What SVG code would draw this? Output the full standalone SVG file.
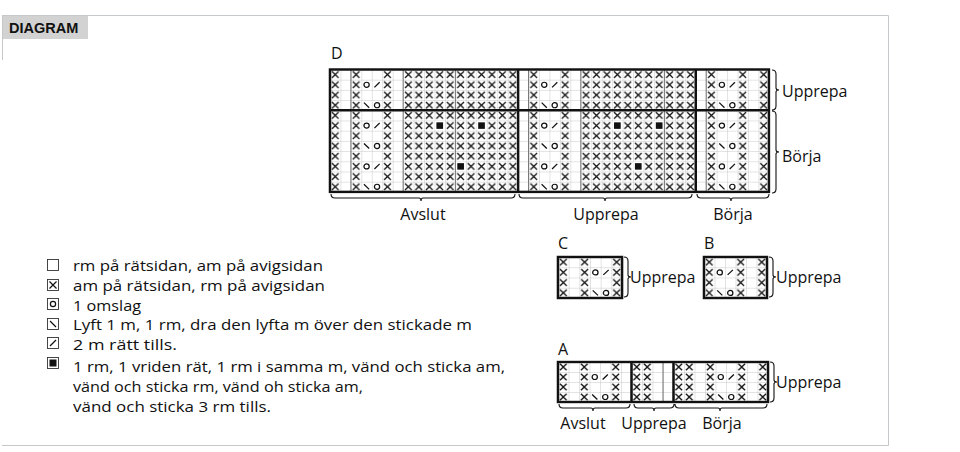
<svg xmlns="http://www.w3.org/2000/svg" xmlns:xlink="http://www.w3.org/1999/xlink" width="960" height="452" viewBox="0 0 960 452">
<style>
text{font-family:"Open Sans","Liberation Sans",Arial,sans-serif;fill:#111}
.lg{font-size:15.2px}
.lb{font-size:16px}
.t{font-size:14.5px;font-weight:bold;font-family:"Liberation Sans",Arial,sans-serif}
.thick{fill:none;stroke:#111;stroke-width:2.4}
.mid{stroke:#777;stroke-width:1}
.br{fill:none;stroke:#111;stroke-width:1.1}
.sym{fill:none;stroke:#111;stroke-width:1.2}
</style>
<defs>
<pattern id="g" patternUnits="userSpaceOnUse" width="10" height="10"><rect width="10" height="10" fill="#fff"/><path d="M0 0H10M0 0V10" stroke="#b4b4b4" stroke-width="0.7"/></pattern>
<pattern id="xg" patternUnits="userSpaceOnUse" width="10" height="10"><rect width="10" height="10" fill="#fff"/><path d="M0 0H10M0 0V10" stroke="#b4b4b4" stroke-width="0.7"/><path d="M1.8 1.8L8.2 8.2M8.2 1.8L1.8 8.2" stroke="#111" stroke-width="1.25"/></pattern>
<g id="o"><circle cx="5" cy="5" r="2.5" class="sym"/></g>
<g id="sl"><path d="M2.5 7.5L7.5 2.5" class="sym"/></g>
<g id="bs"><path d="M2.5 2.5L7.5 7.5" class="sym"/></g>
<g id="bb"><rect x="0.4" y="0.4" width="9.2" height="9.2" fill="#fff"/><rect x="1.8" y="1.8" width="6.4" height="6.4" fill="#111"/></g>
</defs>
<rect width="960" height="452" fill="#fff"/>
<path d="M2 15.5H888.5V445.5H2" fill="none" stroke="#c4c8ca" stroke-width="1"/>
<path d="M2.5 15V60" stroke="#c4c8ca"/>
<rect x="3" y="16" width="85" height="23" fill="#d2d2d2"/>
<text x="9" y="33" class="t">DIAGRAM</text>

<g id="chartD">
<text x="331" y="59" class="lb" font-size="14">D</text>
<g transform="translate(330,69.5) scale(1.045,1.02)">
<rect width="420" height="120" fill="url(#g)"/>
<g fill="url(#xg)">
<rect x="0" width="10" height="120"/><rect x="20" width="10" height="120"/><rect x="50" width="10" height="120"/><rect x="70" width="110" height="120"/>
<rect x="190" width="10" height="120"/><rect x="220" width="10" height="120"/><rect x="240" width="110" height="120"/>
<rect x="360" width="10" height="120"/><rect x="390" width="10" height="120"/><rect x="410" width="10" height="120"/>
</g>
<g>
<use href="#o" x="30" y="10"/><use href="#sl" x="40" y="10"/><use href="#bs" x="30" y="30"/><use href="#o" x="40" y="30"/>
<use href="#o" x="30" y="50"/><use href="#sl" x="40" y="50"/><use href="#bs" x="30" y="70"/><use href="#o" x="40" y="70"/>
<use href="#o" x="30" y="90"/><use href="#sl" x="40" y="90"/><use href="#bs" x="30" y="110"/><use href="#o" x="40" y="110"/>
<use href="#o" x="200" y="10"/><use href="#sl" x="210" y="10"/><use href="#bs" x="200" y="30"/><use href="#o" x="210" y="30"/>
<use href="#o" x="200" y="50"/><use href="#sl" x="210" y="50"/><use href="#bs" x="200" y="70"/><use href="#o" x="210" y="70"/>
<use href="#o" x="200" y="90"/><use href="#sl" x="210" y="90"/><use href="#bs" x="200" y="110"/><use href="#o" x="210" y="110"/>
<use href="#o" x="370" y="10"/><use href="#sl" x="380" y="10"/><use href="#bs" x="370" y="30"/><use href="#o" x="380" y="30"/>
<use href="#o" x="370" y="50"/><use href="#sl" x="380" y="50"/><use href="#bs" x="370" y="70"/><use href="#o" x="380" y="70"/>
<use href="#o" x="370" y="90"/><use href="#sl" x="380" y="90"/><use href="#bs" x="370" y="110"/><use href="#o" x="380" y="110"/>
<use href="#bb" x="100" y="50"/><use href="#bb" x="140" y="50"/><use href="#bb" x="120" y="90"/>
<use href="#bb" x="270" y="50"/><use href="#bb" x="310" y="50"/><use href="#bb" x="290" y="90"/>
</g>
<path class="mid" d="M20 0V120M70 0V120M120 0V120M190 0V120M240 0V120M320 0V120M360 0V120"/>
<rect class="thick" width="420" height="120"/>
<path class="thick" d="M180 0V120M350 0V120M0 40H420"/>
</g>
<path class="br" d="M772 70q4 0 4 4v14q0 2 3 2q-3 0-3 2v14q0 4-4 4M772 111q4 0 4 4v35q0 2 3 2q-3 0-3 2v35q0 4-4 4"/>
<path class="br" d="M331 194q0 4 4 4h84q2 0 2 3q0-3 2-3h88q4 0 4-4M519 194q0 4 4 4h80q2 0 2 3q0-3 2-3h81q4 0 4-4M697 194q0 4 4 4h28q2 0 2 3q0-3 2-3h32q4 0 4-4"/>
<text x="782" y="97" class="lb">Upprepa</text>
<text x="782" y="162" class="lb">Börja</text>
<text x="423" y="220" class="lb" text-anchor="middle">Avslut</text>
<text x="606" y="220" class="lb" text-anchor="middle">Upprepa</text>
<text x="733" y="220" class="lb" text-anchor="middle">Börja</text>
</g>

<g id="chartC">
<text x="558" y="249" class="lb" font-size="14">C</text>
<g transform="translate(558,257) scale(1.067,1.025)">
<rect width="60" height="40" fill="url(#g)"/>
<g fill="url(#xg)"><rect x="0" width="10" height="40"/><rect x="20" width="10" height="40"/><rect x="50" width="10" height="40"/></g>
<use href="#o" x="30" y="10"/><use href="#sl" x="40" y="10"/><use href="#bs" x="30" y="30"/><use href="#o" x="40" y="30"/>
<rect class="thick" width="60" height="40"/>
</g>
<path class="br" d="M624 257q4 0 4 4v14q0 2 3 2q-3 0-3 2v14q0 4-4 4"/>
<text x="630" y="283" class="lb">Upprepa</text>
</g>

<g id="chartB">
<text x="704" y="249" class="lb" font-size="14">B</text>
<g transform="translate(704,257) scale(1.05,1.025)">
<rect width="60" height="40" fill="url(#g)"/>
<g fill="url(#xg)"><rect x="0" width="10" height="40"/><rect x="30" width="10" height="40"/><rect x="50" width="10" height="40"/></g>
<use href="#o" x="10" y="10"/><use href="#sl" x="20" y="10"/><use href="#bs" x="10" y="30"/><use href="#o" x="20" y="30"/>
<rect class="thick" width="60" height="40"/>
</g>
<path class="br" d="M769 257q4 0 4 4v14q0 2 3 2q-3 0-3 2v14q0 4-4 4"/>
<text x="776" y="283" class="lb">Upprepa</text>
</g>

<g id="chartA">
<text x="558" y="355" class="lb" font-size="14">A</text>
<g transform="translate(558,362) scale(1.05,1.0)">
<rect width="200" height="40" fill="url(#g)"/>
<g fill="url(#xg)"><rect x="0" width="10" height="40"/><rect x="20" width="10" height="40"/><rect x="50" width="10" height="40"/>
<rect x="70" width="20" height="40"/>
<rect x="110" width="20" height="40"/><rect x="140" width="10" height="40"/><rect x="170" width="10" height="40"/><rect x="190" width="10" height="40"/></g>
<use href="#o" x="30" y="10"/><use href="#sl" x="40" y="10"/><use href="#bs" x="30" y="30"/><use href="#o" x="40" y="30"/>
<use href="#o" x="150" y="10"/><use href="#sl" x="160" y="10"/><use href="#bs" x="150" y="30"/><use href="#o" x="160" y="30"/>
<path class="mid" d="M100 0V40"/>
<rect class="thick" width="200" height="40"/>
<path class="thick" d="M70 0V40M110 0V40"/>
</g>
<path class="br" d="M770 362q4 0 4 4v14q0 2 3 2q-3 0-3 2v14q0 4-4 4"/>
<path class="br" d="M559 404q0 4 4 4h28q2 0 2 3q0-3 2-3h31q4 0 4-4M634 404q0 4 4 4h14q2 0 2 3q0-3 2-3h14q4 0 4-4M675 404q0 4 4 4h39q2 0 2 3q0-3 2-3h41q4 0 4-4"/>
<text x="776" y="388" class="lb">Upprepa</text>
<text x="583" y="429" class="lb" text-anchor="middle">Avslut</text>
<text x="654" y="429" class="lb" text-anchor="middle">Upprepa</text>
<text x="722" y="429" class="lb" text-anchor="middle">Börja</text>
</g>

<g id="legend">
<rect x="47.5" y="259.5" width="11" height="11" fill="#fff" stroke="#333" stroke-width="0.9"/>
<rect x="47.5" y="279.5" width="11" height="11" fill="#fff" stroke="#333" stroke-width="0.9"/><path d="M49.5 281.5L56.5 288.5M56.5 281.5L49.5 288.5" class="sym"/>
<rect x="47.5" y="298.5" width="11" height="11" fill="#fff" stroke="#333" stroke-width="0.9"/><circle cx="53" cy="304" r="2.6" class="sym"/>
<rect x="47.5" y="318.5" width="11" height="11" fill="#fff" stroke="#333" stroke-width="0.9"/><path d="M50 321L56 327" class="sym"/>
<rect x="47.5" y="337.5" width="11" height="11" fill="#fff" stroke="#333" stroke-width="0.9"/><path d="M50 346L56 340" class="sym"/>
<rect x="47.5" y="357.5" width="11" height="11" fill="#fff" stroke="#333" stroke-width="0.9"/><rect x="49.5" y="359.5" width="7" height="7" fill="#111"/>
<text x="73" y="271" class="lg" textLength="250" lengthAdjust="spacingAndGlyphs">rm på rätsidan, am på avigsidan</text>
<text x="73" y="291" class="lg" textLength="252" lengthAdjust="spacingAndGlyphs">am på rätsidan, rm på avigsidan</text>
<text x="73" y="310.5" class="lg" textLength="68" lengthAdjust="spacingAndGlyphs">1 omslag</text>
<text x="73" y="330" class="lg" textLength="399" lengthAdjust="spacingAndGlyphs">Lyft 1 m, 1 rm, dra den lyfta m över den stickade m</text>
<text x="73" y="350" class="lg" textLength="104" lengthAdjust="spacingAndGlyphs">2 m rätt tills.</text>
<text x="73" y="372" class="lg" textLength="432" lengthAdjust="spacingAndGlyphs">1 rm, 1 vriden rät, 1 rm i samma m, vänd och sticka am,</text>
<text x="73" y="392" class="lg" textLength="290" lengthAdjust="spacingAndGlyphs">vänd  och sticka rm, vänd oh sticka am,</text>
<text x="73" y="412" class="lg" textLength="198" lengthAdjust="spacingAndGlyphs">vänd och sticka 3 rm tills.</text>
</g>
</svg>
